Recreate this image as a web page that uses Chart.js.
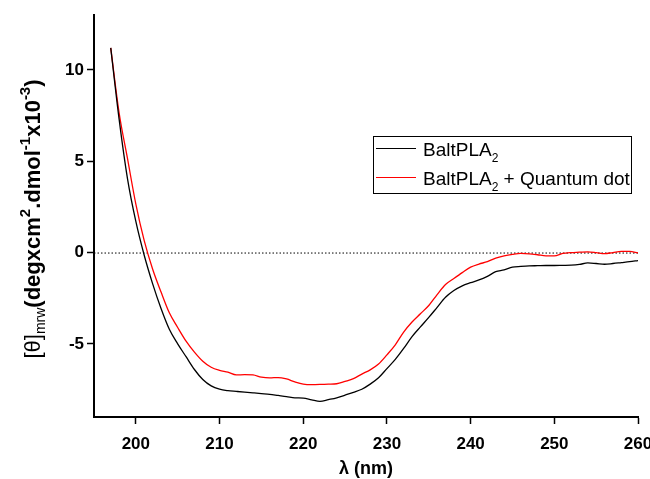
<!DOCTYPE html>
<html>
<head>
<meta charset="utf-8">
<script src="https://cdn.jsdelivr.net/npm/chart.js@4.4.1/dist/chart.umd.min.js"></script>
<style>
    html, body { margin: 0; padding: 0; background: #fff; }
    #wrap { width: 650px; height: 479px; }
</style>
</head>
<body>
<div id="wrap"><canvas id="cdChart" width="650" height="479"></canvas></div>
<script>
// 波長 (nm)
const wavelengths = [
    197, 198, 199, 200, 201, 202, 203, 204, 205, 206,
    207, 208, 209, 210, 211, 212, 213, 214, 215, 216,
    217, 218, 219, 220, 221, 222, 223, 224, 225, 226,
    227, 228, 229, 230, 231, 232, 233, 234, 235, 236,
    237, 238, 239, 240, 241, 242, 243, 244, 245, 246,
    247, 248, 249, 250, 251, 252, 253, 254, 255, 256,
    257, 258, 259, 260
];

// BaltPLA2
const baltValues = [
    11.2, 7.3, 4.05, 1.7, -0.15, -1.7, -3.05, -4.2, -5.0, -5.7,
    -6.4, -6.95, -7.3, -7.48, -7.56, -7.6, -7.64, -7.68, -7.72, -7.76,
    -7.82, -7.88, -7.95, -7.97, -8.06, -8.14, -8.05, -7.95, -7.8, -7.65,
    -7.48, -7.2, -6.85, -6.35, -5.85, -5.25, -4.6, -4.07, -3.55, -3.0,
    -2.45, -2.08, -1.82, -1.65, -1.5, -1.3, -1.05, -0.95, -0.8, -0.76,
    -0.73, -0.72, -0.71, -0.71, -0.7, -0.69, -0.65, -0.57, -0.6, -0.64,
    -0.6, -0.55, -0.5, -0.44
];

// BaltPLA2 + Quantum dot
const baltQdValues = [
    11.2, 7.65, 5.15, 2.65, 0.65, -0.9, -2.15, -3.3, -4.1, -4.85,
    -5.45, -5.95, -6.28, -6.45, -6.55, -6.7, -6.68, -6.7, -6.82, -6.86,
    -6.84, -6.92, -7.08, -7.2, -7.23, -7.22, -7.2, -7.18, -7.05, -6.9,
    -6.65, -6.42, -6.1, -5.6, -5.05, -4.35, -3.8, -3.35, -2.9, -2.3,
    -1.75, -1.42, -1.1, -0.8, -0.63, -0.5, -0.3, -0.18, -0.1, -0.05,
    -0.07, -0.12, -0.18, -0.18, -0.05, 0.0, 0.02, 0.04, 0.0, -0.06,
    0.0, 0.06, 0.06, -0.02
];

const xTicks = [200, 210, 220, 230, 240, 250, 260];
const yTicks = [-5, 0, 5, 10];

// 圖例文字：[主文字, 下標, 後綴]
const legendNames = [
    ['BaltPLA', '2', ''],
    ['BaltPLA', '2', ' + Quantum dot']
];
const seriesColors = ['#000000', '#ff0000'];

// Y 軸標題片段：[文字, 型態]  n=粗體, r=一般, sub=下標, sup=上標
const yTitleParts = [
    ['[\u03b8]', 'r'], ['mrw', 'sub'], ['(degxcm', 'n'], ['2', 'sup'],
    ['.dmol', 'n'], ['-1', 'sup'], ['x10', 'n'], ['-3', 'sup'], [')', 'n']
];
const xTitle = '\u03bb (nm)';

const FONT = "'Liberation Sans', Arial, Helvetica, sans-serif";

function toPoints(xs, ys) {
    return xs.map((x, i) => ({ x: x, y: ys[i] }));
}

function titleFont(kind) {
    if (kind === 'n') return 'bold 22px ' + FONT;
    if (kind === 'r') return '22px ' + FONT;
    if (kind === 'sub') return '14px ' + FONT;
    return 'bold 15px ' + FONT;
}

// 繪製零線、座標標題與圖例
const decorPlugin = {
    id: 'decor',
    beforeDatasetsDraw(chart) {
        const { ctx, chartArea, scales } = chart;
        const y0 = scales.y.getPixelForValue(0);
        ctx.save();
        ctx.strokeStyle = '#000';
        ctx.lineWidth = 1;
        ctx.setLineDash([1.5, 2]);
        ctx.beginPath();
        ctx.moveTo(chartArea.left, y0 + 0.5);
        ctx.lineTo(chartArea.right, y0 + 0.5);
        ctx.stroke();
        ctx.restore();
    },
    afterDraw(chart) {
        const { ctx, chartArea } = chart;
        ctx.save();

        // X 軸標題
        ctx.fillStyle = '#000';
        ctx.font = 'bold 18px ' + FONT;
        ctx.textAlign = 'center';
        ctx.textBaseline = 'alphabetic';
        ctx.fillText(xTitle, (chartArea.left + chartArea.right) / 2, 474);

        // Y 軸標題（旋轉）
        let total = 0;
        yTitleParts.forEach(([t, k]) => {
            ctx.font = titleFont(k);
            total += ctx.measureText(t).width;
        });
        ctx.translate(40, 219);
        ctx.rotate(-Math.PI / 2);
        ctx.textAlign = 'left';
        let pos = -total / 2;
        yTitleParts.forEach(([t, k]) => {
            ctx.font = titleFont(k);
            const dy = k === 'sub' ? 5 : (k === 'sup' ? -10 : 0);
            ctx.fillText(t, pos, dy);
            pos += ctx.measureText(t).width;
        });
        ctx.setTransform(1, 0, 0, 1, 0, 0);

        // 圖例
        ctx.strokeStyle = '#000';
        ctx.lineWidth = 1;
        ctx.strokeRect(373.5, 136.5, 258, 57);
        legendNames.forEach(([name, sub, rest], i) => {
            const ly = 148.5 + i * 29;
            ctx.strokeStyle = seriesColors[i];
            ctx.lineWidth = 1.2;
            ctx.beginPath();
            ctx.moveTo(376, ly);
            ctx.lineTo(416, ly);
            ctx.stroke();
            ctx.fillStyle = '#000';
            ctx.font = '19px ' + FONT;
            let tx = 423;
            const base = ly + 7;
            ctx.fillText(name, tx, base);
            tx += ctx.measureText(name).width;
            ctx.font = '12px ' + FONT;
            ctx.fillText(sub, tx, base + 6);
            tx += ctx.measureText(sub).width;
            ctx.font = '19px ' + FONT;
            ctx.fillText(rest, tx, base);
        });
        ctx.restore();
    }
};

document.addEventListener('DOMContentLoaded', () => {
    const ctx = document.getElementById('cdChart');

    new Chart(ctx, {
        type: 'line',
        data: {
            datasets: [
                {
                    label: legendNames[0].join(''),
                    data: toPoints(wavelengths, baltValues),
                    borderColor: seriesColors[0],
                    borderWidth: 1.3,
                    pointRadius: 0,
                    cubicInterpolationMode: 'monotone',
                    fill: false
                },
                {
                    label: legendNames[1].join(''),
                    data: toPoints(wavelengths, baltQdValues),
                    borderColor: seriesColors[1],
                    borderWidth: 1.3,
                    pointRadius: 0,
                    cubicInterpolationMode: 'monotone',
                    fill: false
                }
            ]
        },
        options: {
            responsive: false,
            animation: false,
            layout: { padding: { top: 15, right: 12, left: 0, bottom: 0 } },
            plugins: {
                legend: { display: false },
                tooltip: { enabled: false }
            },
            scales: {
                x: {
                    type: 'linear',
                    min: 195,
                    max: 260,
                    afterBuildTicks: scale => {
                        scale.ticks = xTicks.map(v => ({ value: v }));
                    },
                    afterFit: scale => {
                        scale.height = 62;
                        scale.paddingRight = 12;
                    },
                    grid: {
                        drawOnChartArea: false,
                        drawTicks: true,
                        tickLength: 7,
                        tickWidth: 1.5,
                        tickColor: '#000'
                    },
                    border: { display: true, color: '#000', width: 2 },
                    ticks: {
                        color: '#000',
                        padding: 10,
                        maxRotation: 0,
                        font: { family: FONT, size: 17, weight: 'bold' }
                    }
                },
                y: {
                    type: 'linear',
                    min: -9,
                    max: 13,
                    afterBuildTicks: scale => {
                        scale.ticks = yTicks.map(v => ({ value: v }));
                    },
                    afterFit: scale => {
                        scale.width = 94;
                    },
                    grid: {
                        drawOnChartArea: false,
                        drawTicks: true,
                        tickLength: 7,
                        tickWidth: 1.5,
                        tickColor: '#000'
                    },
                    border: { display: true, color: '#000', width: 2 },
                    ticks: {
                        color: '#000',
                        padding: 3,
                        font: { family: FONT, size: 17, weight: 'bold' }
                    }
                }
            }
        },
        plugins: [decorPlugin]
    });
});
</script>
</body>
</html>
